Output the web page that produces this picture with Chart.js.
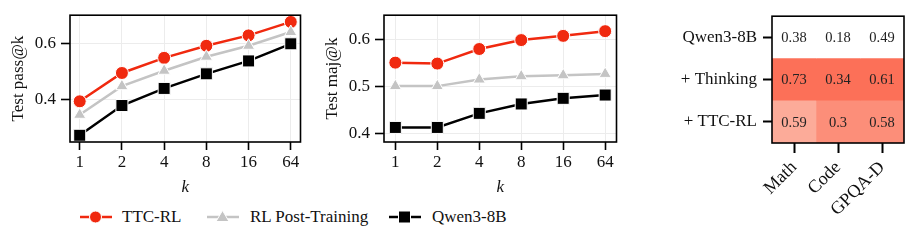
<!DOCTYPE html>
<html>
<head>
<meta charset="utf-8">
<script src="https://cdn.jsdelivr.net/npm/chart.js@4/dist/chart.umd.min.js"></script>
<style>
  body { margin: 0; background: #fff; }
  #wrap { position: relative; width: 914px; height: 243px; font-family: 'Liberation Serif', serif; }
  canvas { position: absolute; top: 0; }
  .leg { position: absolute; top: 207px; font-size: 17px; color: #111; line-height: 20px; }
  .leg svg { position: absolute; top: 0; }
</style>
</head>
<body>
<div id="wrap">
  <canvas id="passk" style="left:0px" width="310" height="200"></canvas>
  <canvas id="majk" style="left:314px" width="312" height="200"></canvas>
  <canvas id="heat" style="left:630px" width="284" height="243"></canvas>

  <div class="leg" style="left:80px">
    <svg width="32" height="20"><line x1="0" y1="10" x2="32" y2="10" stroke="#f0290f" stroke-width="2.5"/><circle cx="15.5" cy="10" r="6" fill="#f0290f" stroke="#fff" stroke-width="1"/></svg>
    <span style="position:absolute;left:42px;white-space:nowrap">TTC-RL</span>
  </div>
  <div class="leg" style="left:207px">
    <svg width="32" height="20"><line x1="0" y1="10" x2="32" y2="10" stroke="#c4c4c4" stroke-width="2.5"/><polygon points="15.5,3.5 22,14.5 9,14.5" fill="#c4c4c4" stroke="#fff" stroke-width="1"/></svg>
    <span style="position:absolute;left:43px;white-space:nowrap">RL Post-Training</span>
  </div>
  <div class="leg" style="left:389px">
    <svg width="32" height="20"><line x1="0" y1="10" x2="32" y2="10" stroke="#000" stroke-width="2.5"/><rect x="9.5" y="4" width="12" height="12" fill="#000" stroke="#fff" stroke-width="1"/></svg>
    <span style="position:absolute;left:43px;white-space:nowrap">Qwen3-8B</span>
  </div>
</div>

<script>
// k values on the x axis
var kLabels = ['1', '2', '4', '8', '16', '64'];

// left panel: Test pass@k
var passTTC  = [0.393, 0.494, 0.548, 0.591, 0.628, 0.676];
var passRL   = [0.345, 0.447, 0.502, 0.552, 0.591, 0.640];
var passBase = [0.272, 0.378, 0.439, 0.491, 0.537, 0.598];
var passTicks = [0.4, 0.6];

// middle panel: Test maj@k
var majTTC  = [0.550, 0.548, 0.579, 0.598, 0.607, 0.617];
var majRL   = [0.500, 0.500, 0.514, 0.521, 0.523, 0.526];
var majBase = [0.412, 0.412, 0.442, 0.462, 0.474, 0.481];
var majTicks = [0.4, 0.5, 0.6];

// right panel: heatmap
var heatRows = ['Qwen3-8B', '+ Thinking', '+ TTC-RL'];
var heatCols = ['Math', 'Code', 'GPQA-D'];
var heatValues = [
  [0.38, 0.18, 0.49],
  [0.73, 0.34, 0.61],
  [0.59, 0.3, 0.58]
];
var heatColors = [
  ['#ffffff', '#ffffff', '#ffffff'],
  ['#fc7058', '#fc7058', '#fc7058'],
  ['#fcab99', '#fc8e79', '#fc8e79']
];

var serif = "'Liberation Serif', serif";
var red = '#f0290f', grey = '#c4c4c4', black = '#000000';

// full black box around the plot area
var framePlugin = {
  id: 'frame',
  afterDraw: function(chart) {
    var a = chart.chartArea, ctx = chart.ctx;
    ctx.save();
    ctx.strokeStyle = '#000';
    ctx.lineWidth = 1.6;
    ctx.strokeRect(a.left, a.top, a.right - a.left, a.bottom - a.top);
    ctx.restore();
  }
};

function pts(arr) {
  return arr.map(function(v, i) { return {x: i, y: v}; });
}

function lineSet(label, arr, color, style, radius) {
  return {
    label: label,
    data: pts(arr),
    borderColor: color,
    backgroundColor: color,
    borderWidth: 2.5,
    pointStyle: style,
    pointRadius: radius,
    pointHoverRadius: radius,
    pointBackgroundColor: color,
    pointBorderColor: '#fff',
    pointBorderWidth: 1
  };
}

function makeLine(id, ttc, rl, base, yTicks, ymin, ymax, xpad, title) {
  var ctx = document.getElementById(id).getContext('2d');
  return new Chart(ctx, {
    type: 'line',
    data: {
      datasets: [
        lineSet('RL Post-Training', rl, grey, 'triangle', 7),
        lineSet('Qwen3-8B', base, black, 'rect', 8.5),
        lineSet('TTC-RL', ttc, red, 'circle', 6.5)
      ]
    },
    options: {
      responsive: false,
      animation: false,
      events: [],
      layout: { padding: { top: 11, right: 4, bottom: 0, left: 0 } },
      plugins: { legend: { display: false }, tooltip: { enabled: false } },
      scales: {
        x: {
          type: 'linear',
          min: -xpad,
          max: 5 + xpad,
          afterBuildTicks: function(scale) {
            scale.ticks = kLabels.map(function(_, i) { return {value: i}; });
          },
          afterFit: function(scale) { scale.height = 58; },
          border: { display: false },
          grid: { color: '#ececec', lineWidth: 1, tickColor: '#000', tickLength: 8, tickWidth: 1.6 },
          ticks: {
            color: '#111', padding: 2,
            font: { family: serif, size: 17 },
            callback: function(v) { return kLabels[v]; }
          },
          title: {
            display: true, text: 'k', color: '#111',
            font: { family: serif, size: 17, style: 'italic' },
            padding: { top: 0, bottom: 2 }
          }
        },
        y: {
          min: ymin,
          max: ymax,
          afterBuildTicks: function(scale) {
            scale.ticks = yTicks.map(function(v) { return {value: v}; });
          },
          afterFit: function(scale) { scale.width = 70; },
          border: { display: false },
          grid: { color: '#ececec', lineWidth: 1, tickColor: '#000', tickLength: 9, tickWidth: 1.6 },
          ticks: {
            color: '#111', padding: 5,
            font: { family: serif, size: 17 },
            callback: function(v) { return v.toFixed(1); }
          },
          title: {
            display: true, text: title, color: '#111',
            font: { family: serif, size: 17 },
            padding: { top: 8, bottom: 0 }
          }
        }
      }
    },
    plugins: [framePlugin]
  });
}

makeLine('passk', passTTC, passRL, passBase, passTicks, 0.248, 0.70, 0.23, 'Test pass@k');
makeLine('majk', majTTC, majRL, majBase, majTicks, 0.381, 0.651, 0.27, 'Test maj@k');

// heatmap: horizontal stacked bars, one unit wide per cell
var cellText = {
  id: 'cellText',
  afterDatasetsDraw: function(chart) {
    var ctx = chart.ctx;
    ctx.save();
    ctx.font = '14.5px ' + serif;
    ctx.fillStyle = '#222';
    ctx.textAlign = 'center';
    ctx.textBaseline = 'middle';
    chart.data.datasets.forEach(function(ds, c) {
      chart.getDatasetMeta(c).data.forEach(function(bar, r) {
        ctx.fillText(String(heatValues[r][c]), (bar.x + bar.base) / 2, bar.y + 1);
      });
    });
    ctx.restore();
  }
};

new Chart(document.getElementById('heat').getContext('2d'), {
  type: 'bar',
  data: {
    labels: heatRows,
    datasets: heatCols.map(function(col, c) {
      return {
        label: col,
        data: heatRows.map(function() { return 1; }),
        backgroundColor: heatRows.map(function(_, r) { return heatColors[r][c]; }),
        borderWidth: 0,
        barPercentage: 1,
        categoryPercentage: 1
      };
    })
  },
  options: {
    indexAxis: 'y',
    responsive: false,
    animation: false,
    events: [],
    layout: { padding: { top: 11, right: 10, bottom: 0, left: 0 } },
    plugins: { legend: { display: false }, tooltip: { enabled: false } },
    scales: {
      x: {
        type: 'linear',
        stacked: true,
        min: 0,
        max: 3,
        afterBuildTicks: function(scale) {
          scale.ticks = heatCols.map(function(_, i) { return {value: i + 0.5}; });
        },
        afterFit: function(scale) { scale.height = 100; },
        border: { display: false },
        grid: { drawOnChartArea: false, tickColor: '#000', tickLength: 10, tickWidth: 2 },
        ticks: {
          color: '#111', padding: 4, minRotation: 45, maxRotation: 45,
          font: { family: serif, size: 18 },
          callback: function(v) { return heatCols[Math.round(v - 0.5)]; }
        }
      },
      y: {
        stacked: true,
        afterFit: function(scale) { scale.width = 142; },
        border: { display: false },
        grid: { drawOnChartArea: false, offset: false, tickColor: '#000', tickLength: 9, tickWidth: 2 },
        ticks: {
          color: '#111', padding: 6,
          font: { family: serif, size: 17 }
        }
      }
    }
  },
  plugins: [cellText, framePlugin]
});
</script>
</body>
</html>
